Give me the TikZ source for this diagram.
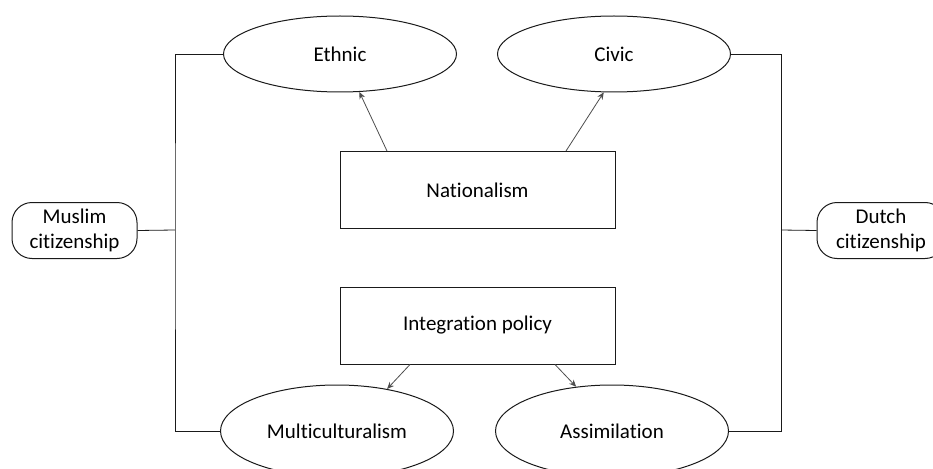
\documentclass[tikz,border=0pt]{standalone}
\usepackage{fontspec}
\setmainfont{Carlito}[Ligatures={NoCommon}, RawFeature={-liga;-dlig}]
\usetikzlibrary{shapes.geometric,arrows.meta}
\definecolor{vblack}{HTML}{1a1a1a}
\definecolor{vgray}{HTML}{4d4d4d}

\begin{document}
\begin{tikzpicture}[x=1pt, y=-1pt, font=\fontsize{21}{25}\selectfont,
		oval/.style={draw=vblack, line width=1pt, ellipse, inner sep=0pt, minimum width=233pt},
		panel/.style={draw=vblack, line width=1pt, rectangle, inner sep=0pt, minimum width=275pt, minimum height=77pt},
		pill/.style={draw=vblack, line width=1pt, rectangle, rounded corners=20pt, align=center, inner sep=0pt, minimum height=56pt},
		link/.style={draw=vblack, line width=0.8pt},
		push/.style={draw=vgray, line width=0.8pt, -{Stealth[length=7pt, width=6pt]}}]
		\useasboundingbox (0,0) rectangle (933,468);
		\node[oval, minimum height=76pt] (ethnic) at (340,54) {Ethnic};
		\node[oval, minimum height=76pt] (civic) at (614,54) {Civic};
		\node[oval, minimum height=92pt] (multi) at (337,431) {Multiculturalism};
		\node[oval, minimum height=92pt] (assim) at (612,431) {Assimilation};
		\node[panel] (nation) at (477.5,190) {Nationalism};
		\node[panel] (integ) at (477.5,325.5) {Integration policy};
		\node[pill, minimum width=125pt] (muslim) at (74.5,230.5) {Muslim\\citizenship};
		\node[pill, minimum width=128pt] (dutch) at (881,230.5) {Dutch\\citizenship};
		\coordinate (lbar) at (175,230);
		\coordinate (rbar) at (781,230);
		\draw[link] (ethnic.west) -| (lbar) |- (multi.west);
		\draw[link] (civic.east) -| (rbar) |- (assim.east);
		\draw[link] (muslim.east) -- (lbar);
		\draw[link] (dutch.west) -- (rbar);
		\draw[push] ([xshift=-90.5pt]nation.north) -- (ethnic.-63);
		\draw[push] ([xshift=88.5pt]nation.north) -- (civic.-105);
		\draw[push] ([xshift=-67.5pt]integ.south) -- (multi.40);
		\draw[push] ([xshift=77.5pt]integ.south) -- (assim.129);
	\end{tikzpicture}
\end{document}
